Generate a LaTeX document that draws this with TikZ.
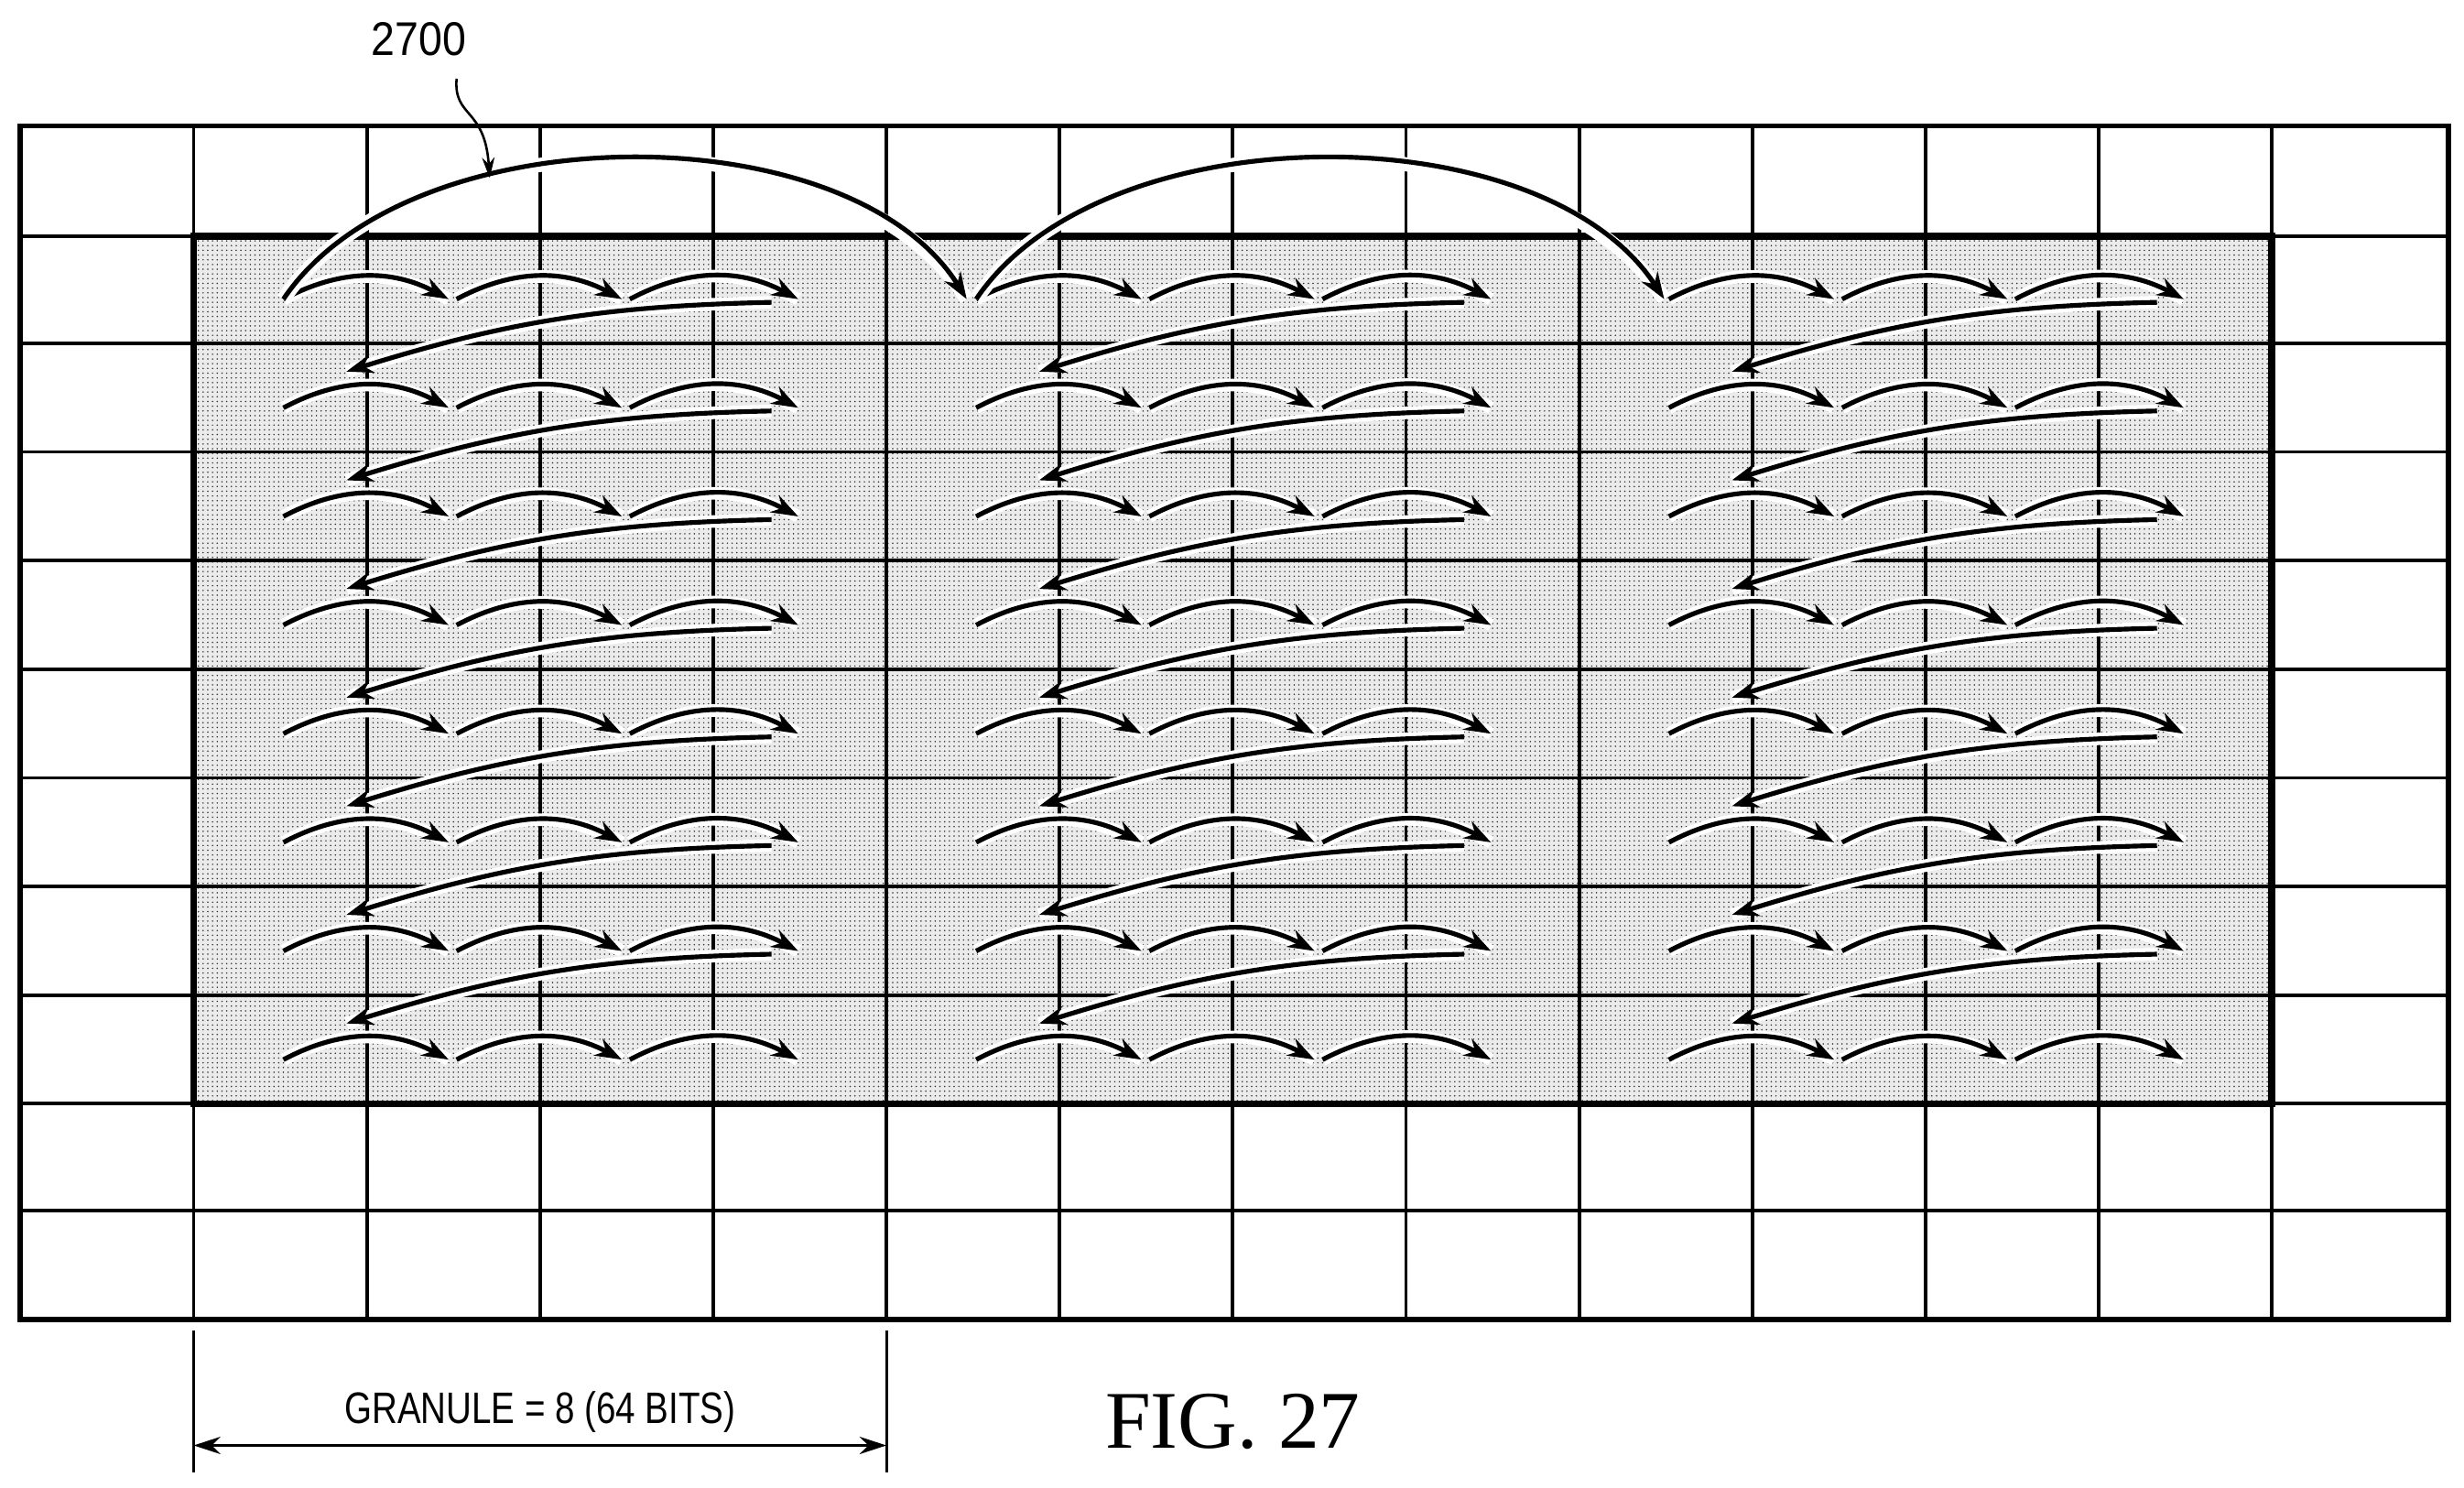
\documentclass[tikz,border=0pt]{standalone}
\usepackage{fontspec}
\setmainfont{Liberation Serif}
\setsansfont{Liberation Sans}
\usetikzlibrary{arrows.meta,patterns}
\begin{document}
\begin{tikzpicture}[x=1pt,y=-1pt,
  gridl/.style={line width=2.2pt},
  arc/.style={line width=3pt,-{Stealth[length=17pt,width=12pt]},preaction={draw=white,line width=8pt,-{}}},
  big/.style={line width=3pt,-{Stealth[length=17pt,width=12pt]},preaction={draw=white,line width=9pt,-{}}}]
\useasboundingbox (0,0) rectangle (1565,945);
% shaded region
\fill[black!8] (123,150) rectangle (1443,701);
\fill[pattern=dots,pattern color=black!80] (123,150) rectangle (1443,701);
% grid
\foreach \y in {150,218,287,356,425,494,563,632,701,769} \draw[gridl] (13,\y) -- (1555,\y);
\foreach \x in {123,233,343,453,563,673,783,893,1003,1113,1223,1333,1443} \draw[gridl] (\x,80) -- (\x,838);
\draw[line width=3.4pt] (13,80) rectangle (1555,838);
% arrows
\foreach \g in {0,440,880}{
  \foreach \r in {0,...,7}{
    \pgfmathsetmacro\yy{190+69*\r}
    \draw[arc] (180+\g,\yy) to[bend left=28] (285+\g,\yy);
    \draw[arc] (290+\g,\yy) to[bend left=28] (395+\g,\yy);
    \draw[arc] (400+\g,\yy) to[bend left=28] (507+\g,\yy);
  }
  \foreach \r in {0,...,6}{
    \pgfmathsetmacro\ya{192+69*\r}
    \pgfmathsetmacro\yb{236+69*\r}
    \draw[arc] (490+\g,\ya) to[bend right=8] (220+\g,\yb);
  }
}
\draw[line width=4.5pt] (123,150) rectangle (1443,701);
\draw[big] (180,190) .. controls (260,71) and (540,71) .. (614,190);
\draw[big] (620,190) .. controls (700,71) and (980,71) .. (1057,190);
% label
\node[font=\sffamily\fontsize{30}{34}\selectfont,xscale=0.9] (lbl) at (266,25) {2700};
\draw[line width=1.5pt,-{Stealth[length=13pt,width=8pt]}] (290,50) .. controls (288,75) and (308,68) .. (311,113);
% dimension
\coordinate (d1) at (123,918); \coordinate (d2) at (563,918);
\draw[line width=1.8pt] (123,845) -- (123,935) (563,845) -- (563,935);
\draw[line width=2pt,{Stealth[length=17pt,width=11pt]}-{Stealth[length=17pt,width=11pt]}] (d1) -- (d2);
\node[font=\sffamily\fontsize{28}{32}\selectfont,xscale=0.8] (gr) at (343,897) {GRANULE = 8 (64 BITS)};
\node[font=\fontsize{52}{58}\selectfont] (fig) at (783,903) {FIG. 27};
\end{tikzpicture}
\end{document}
